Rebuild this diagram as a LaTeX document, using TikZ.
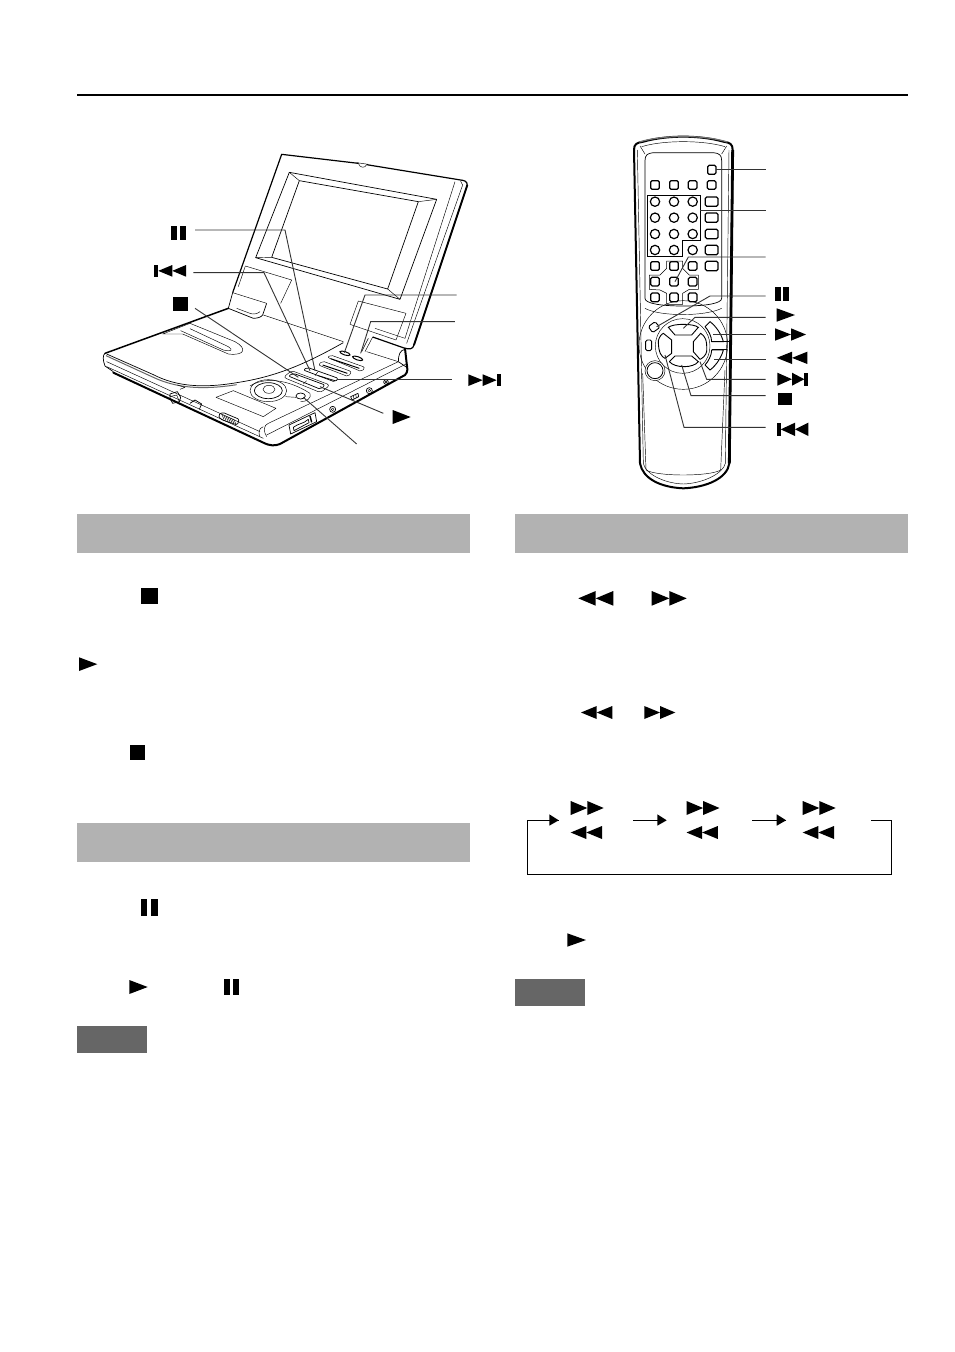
\documentclass[tikz,border=0pt]{standalone}
\tikzset{
  thinl/.style={line width=.45pt,black,line join=round},
  medl/.style={line width=.7pt,black,line join=round},
  heavy/.style={line width=2pt,black,line join=round,line cap=round},
  leader/.style={line width=.9pt,black!80,line join=miter},
  rbtn/.style={line width=1.2pt,black,rounded corners=1.5pt,fill=white},
  pagebar/.style={fill=black!30},
  notebar/.style={fill=black!60},
  flow/.style={line width=.9pt,black},
}
\newcommand\SymPlay[4]{\fill (#1,#3)--(#2,{(#3+#4)/2})--(#1,#4)--cycle;}
\newcommand\SymRev[4]{\fill (#2,#3)--(#1,{(#3+#4)/2})--(#2,#4)--cycle;}
\newcommand\SymFF[5]{\SymPlay{#1}{#2}{#4}{#5}\SymPlay{#2}{#3}{#4}{#5}}
\newcommand\SymRW[5]{\SymRev{#1}{#2}{#4}{#5}\SymRev{#2}{#3}{#4}{#5}}
\newcommand\SymStop[4]{\fill (#1,#3) rectangle (#2,#4);}
\newcommand\SymPause[6]{\fill (#1,#5) rectangle (#2,#6);\fill (#3,#5) rectangle (#4,#6);}
\newcommand\SymNext[6]{\SymFF{#1}{#2}{#3}{#5}{#6}\fill (#3,#5) rectangle (#4,#6);}
\newcommand\SymPrev[6]{\fill (#1,#5) rectangle (#2,#6);\SymRW{#2}{#3}{#4}{#5}{#6}}
\begin{document}
\begin{tikzpicture}[x=1pt,y=-1pt]
\useasboundingbox (0,0) rectangle (954,1352);
\fill[white] (0,0) rectangle (954,1352);
% page furniture
\draw[line width=2pt] (77,95) -- (908,95);
\fill[pagebar] (77,514) rectangle (470,553);
\fill[pagebar] (515,514) rectangle (908,553);
\fill[pagebar] (77,823) rectangle (470,862);
\fill[notebar] (77,1026) rectangle (147,1053);
\fill[notebar] (515,979) rectangle (585,1006);
% symbols in the page text
\SymStop{141}{157.7}{587.7}{604}
\SymPlay{79}{97.3}{657.3}{671}
\SymStop{130}{145}{745}{760}
\SymPause{141}{147.3}{151}{157.7}{899}{915.7}
\SymPlay{129.3}{147.7}{980}{994}
\SymPause{224}{230}{233.3}{239}{979.3}{994.7}
\SymRW{578.3}{595.7}{613.3}{591}{605.7}
\SymFF{651.7}{669.3}{686.7}{591}{605.7}
\SymRW{581}{596.7}{612.3}{706}{719}
\SymFF{644.3}{660}{675.3}{706}{719}
\SymPlay{567.3}{586}{933.3}{946.7}
\foreach \dx in {0,115.8,232}{
  \SymFF{570.7+\dx}{587.3+\dx}{603.7+\dx}{801}{815}
  \SymRW{570.7+\dx}{586.3+\dx}{602+\dx}{826}{839}
}
% speed cycle
\coordinate (a1) at (633,820.3);
\coordinate (a1e) at (666,820.3);
\coordinate (a2) at (752,820.3);
\coordinate (a2e) at (786,820.3);
\coordinate (a3) at (871,820.3);
\coordinate (a0e) at (559,820.3);
\draw[flow] (a3) -- (891.7,820.3) -- (891.7,874.3) -- (527.3,874.3) -- (527.3,820.3) -- (a0e);
\draw[flow] (a1) -- (a1e);
\draw[flow] (a2) -- (a2e);
\foreach \t in {549.3,657.3,776.7}{\fill (\t,814.3) -- (\t+9.4,820.3) -- (\t,825.7) -- cycle;}

% ---------- portable player ----------
\begin{scope}[shift={(90,140)},x=.33333pt,y=-.33333pt]
% lid
\draw[line width=1.2pt,line join=round] (428,458) -- (575,43) -- (805,70) (830,74) -- (1118,121) .. controls (1130,123) and (1134,130) .. (1130,142) -- (972,615) .. controls (968,628) and (960,628) .. (945,625) -- (848,591);
\draw[line width=1.8pt] (1132,135) -- (972,615);
\draw[thinl] (805,70) .. controls (810,85) and (825,85) .. (830,74);
\draw[thinl] (800,68) -- (835,73);
\draw[thinl] (1112,124) -- (1118,135) -- (950,610);
\draw[thinl] (1095,125) -- (945,595) -- (855,565);
\draw[thinl] (428,458) -- (530,490);
% screen bezel
\draw[medl] (598,97) -- (1040,178) -- (930,478) -- (497,353) -- cycle;
\draw[medl] (628,122) -- (985,185) -- (893,447) -- (545,352) -- cycle;
\draw[thinl] (598,97)--(628,122) (1040,178)--(985,185) (930,478)--(893,447) (497,353)--(545,352);
% lid label rectangles
\draw[thinl] (466,378) -- (605,420) -- (572,490);
\draw[thinl] (466,378) -- (445,440);
\draw[thinl] (805,483) -- (948,520) -- (918,600) -- (780,553) -- cycle;
% hinge
\draw[medl] (428,458) -- (415,505) -- (490,535) .. controls (505,535) and (515,530) .. (518,525) -- (530,490);
\draw[thinl] (440,505) -- (480,520) .. controls (490,525) and (505,520) .. (510,515);
\draw[thinl] (848,591) -- (825,635);
\draw[thinl] (835,595) -- (815,635);
% base outlines
\draw[line width=1.5pt,line cap=round] (415,505) -- (45,640);
\draw[medl] (45,640) .. controls (38,645) and (38,660) .. (45,678) -- (70,695);
\draw[heavy] (70,698) -- (520,908) .. controls (540,918) and (555,918) .. (570,912) -- (945,705) .. controls (955,695) and (952,685) .. (950,670) -- (945,625);
\draw[medl] (925,665) .. controls (925,645) and (930,630) .. (945,628);
\draw[medl] (925,665) -- (950,682);
\draw[thinl] (50,665) -- (510,875);
\draw[thinl] (50,680) -- (520,895);
\draw[thinl] (530,885) -- (948,672);
\draw[thinl] (520,860) .. controls (505,865) and (505,880) .. (510,890);
\draw[thinl] (535,850) .. controls (520,855) and (520,875) .. (530,890);
\draw[thinl] (535,850) -- (925,665);
% lid of disc well
\draw[line width=1pt,black!60] (48,647) -- (190,712) .. controls (260,745) and (340,750) .. (440,734);
\draw[medl] (50,642) -- (190,704) .. controls (260,740) and (340,745) .. (440,728) .. controls (560,710) and (650,670) .. (760,608);
\draw[thinl] (218,582) -- (300,550) -- (435,605) .. controls (472,625) and (465,648) .. (415,642) -- (278,582) -- cycle;
\draw[thinl] (300,566) -- (415,620) .. controls (430,630) and (425,636) .. (400,630) -- (272,572);
% top surface
\draw[thinl] (520,525) -- (760,605);
\draw[thinl] (830,635) -- (925,665);
\draw[medl,line width=1pt,rotate around={-18:(765,640)}] (765,640) ellipse (16 and 5);
\draw[medl,line width=1pt,rotate around={-18:(803,655)}] (803,655) ellipse (16 and 5);
\draw[thinl,rounded corners=2pt] (712,652) -- (722,645) -- (825,682) -- (815,695) -- cycle;
\draw[medl,line width=1pt] (722,656) -- (808,685);
\draw[thinl,rounded corners=2pt] (685,675) -- (697,663) -- (785,695) -- (775,710) -- cycle;
\draw[medl,line width=1pt] (698,675) -- (772,700);
\draw[medl,rounded corners=2pt] (640,690) -- (652,682) -- (745,715) -- (735,726) -- cycle;
\draw[thinl] (683,696) -- (675,707);
\draw[medl] (685,707) -- (735,722);
\draw[medl,rounded corners=2pt] (595,708) -- (610,700) -- (705,735) -- (692,748) -- cycle;
\draw[thinl] (650,722) -- (640,732);
\draw[thinl,rounded corners=3pt] (580,712) -- (605,692) -- (720,735) -- (692,758) -- cycle;
% joystick
\draw[thinl] (535,752) ellipse (55 and 33);
\draw[medl] (535,752) ellipse (42 and 24);
\draw[thinl] (537,748) ellipse (18 and 12);
\draw[medl,fill=white] (632,768) ellipse (14 and 9);
\draw[thinl] (587,770) -- (618,772);
\draw[thinl] (480,738) .. controls (520,712) and (590,715) .. (660,760) .. controls (665,775) and (650,785) .. (632,785);
% panel and switches on the top
\draw[thinl] (378,772) -- (430,752) -- (558,805) -- (520,830) -- cycle;
\draw[medl] (240,762) -- (262,755) -- (272,772) -- (268,785) -- (248,790) -- (240,775) -- cycle;
\draw[thinl] (240,770) -- (260,765) -- (268,785) (262,735) -- (285,742) -- (270,748);
\draw[medl] (300,790) -- (315,780) -- (335,792) -- (328,808);
\draw[medl,rounded corners=1.5pt] (385,825) -- (398,817) -- (448,838) -- (442,855) -- (392,838) -- cycle;
\foreach \k in {0,...,6}{\draw[thinl] (395+\k*6,822+\k*2.5) -- (402+\k*6,838+\k*2.5);}
% right side
\draw[medl] (728,808) circle (9);
\draw[thinl] (728,808) circle (4);
\draw[medl] (838,752) circle (9);
\draw[thinl] (838,752) circle (4);
\draw[medl] (888,726) circle (7);
\draw[thinl] (888,726) circle (3);
\draw[medl] (782,770) -- (804,760) -- (806,770) -- (786,780) -- cycle;
\draw[thinl] (790,768)--(792,776) (797,764)--(799,772);
\draw[medl] (597,855) -- (675,818) -- (680,845) -- (602,882) -- cycle;
\draw[medl] (610,862) .. controls (625,850) and (640,852) .. (655,838) -- (657,848) -- (612,872) -- cycle;
\draw[line width=1.4pt] (660,828) -- (665,847);
% leaders
\draw[leader] (315,270) -- (585,270) -- (675,692);
\draw[leader] (310,398) -- (522,398) -- (660,692);
\draw[leader] (315,505) -- (625,712);
\draw[leader] (880,820) -- (690,740);
\draw[leader] (800,912) -- (640,772);
\draw[leader] (1100,465) -- (825,465) -- (763,638);
\draw[leader] (1095,545) -- (842,545) -- (812,640);
\draw[leader] (1085,718) -- (740,718);
\end{scope}
\SymPause{171}{177.3}{180}{186}{226}{240}
\SymPrev{154.3}{158.3}{172.3}{186}{265}{276.7}
\SymStop{173.3}{187.7}{297.3}{311}
\SymNext{468.3}{482.7}{496.7}{500.7}{374.3}{386}
\SymPlay{392.7}{410.7}{410}{424}

% ---------- remote control ----------
\begin{scope}[shift={(620,130)},x=.33333pt,y=-.33333pt]
% body
\draw[line width=2pt,line join=round] (42,60) .. controls (42,42) and (50,38) .. (70,35) .. controls (140,15) and (240,15) .. (310,35) .. controls (330,38) and (338,42) .. (338,60) -- (328,1000) .. controls (322,1045) and (260,1072) .. (190,1075) .. controls (120,1072) and (68,1045) .. (60,1000) -- cycle;
\draw[line width=2.8pt] (338,60) -- (328,1000);
\draw[line width=1.2pt,black!55] (58,36) .. controls (130,14) and (250,14) .. (322,36);
\draw[thinl] (65,50) .. controls (130,30) and (250,30) .. (315,50);
\draw[thinl] (52,60) -- (70,1000) .. controls (75,1030) and (130,1060) .. (190,1062) .. controls (250,1060) and (310,1030) .. (316,1000) -- (327,60);
\draw[thinl] (60,48) -- (75,72) (320,48) -- (305,72);
\draw[medl] (75,92) .. controls (75,75) and (82,70) .. (100,68) -- (280,68) .. controls (298,70) and (305,75) .. (305,92) -- (305,505) .. controls (305,520) and (260,528) .. (190,528) .. controls (120,528) and (75,520) .. (75,505) -- cycle;
\draw[thinl] (75,535) .. controls (120,560) and (255,560) .. (305,535);
\draw[thinl] (68,730) -- (78,1020) .. controls (110,1040) and (270,1040) .. (302,1020) -- (315,720);
% keypad buttons
\draw[rbtn] (263,106) rectangle (288,133);
\foreach \bx in {105,162,218,275}{\draw[rbtn] ({\bx-13},152) rectangle ({\bx+13},178);}
\foreach \by in {215,263,312,360}{
  \foreach \bx in {105,162,218}{\draw[line width=1.2pt,fill=white] (\bx,\by) circle (14);}
  \draw[rbtn] (256,{\by-14}) rectangle (294,{\by+14});
}
\draw[rbtn] (256,394) rectangle (294,422);
\foreach \by in {408,455,502}{
  \foreach \bx in {105,162,218}{\draw[rbtn] ({\bx-13},{\by-13}) rectangle ({\bx+13},{\by+13});}
}
% brackets
\draw[line width=.7pt] (82,195) -- (240,195) -- (240,330) -- (187,330) -- (187,378) -- (82,378) -- cycle;
\draw[line width=.5pt] (120,435) -- (88,435) -- (88,478) -- (120,480) -- (140,490) -- (140,523) -- (188,523) -- (188,490) -- (208,478) -- (235,478) -- (235,435) -- (208,435) -- (188,415) -- (188,393) -- (140,393) -- (140,415) -- cycle;
% navigation cluster
\draw[thinl] (190,645) circle (133);
\draw[thinl] (188,648) circle (82);
\draw[line width=.9pt,fill=white] (145,592) .. controls (160,580) and (220,580) .. (235,592) -- (215,615) -- (165,615) -- cycle;
\draw[line width=.9pt,fill=white] (115,632) .. controls (118,620) and (125,612) .. (130,610) -- (155,630) -- (155,670) -- (135,685) .. controls (125,680) and (115,670) .. (115,632);
\draw[line width=.9pt,fill=white] (220,635) -- (242,610) .. controls (255,618) and (262,630) .. (260,665) .. controls (258,675) and (248,685) .. (240,688) -- (220,665) -- cycle;
\draw[line width=.9pt,fill=white] (148,695) -- (165,678) -- (215,678) -- (235,695) .. controls (220,715) and (165,715) .. (148,695);
\draw[line width=.9pt,fill=white] (255,590) -- (270,575) .. controls (290,590) and (305,615) .. (310,635) -- (275,635) .. controls (275,620) and (265,600) .. (255,590);
\draw[line width=.9pt,fill=white] (255,705) -- (270,720) .. controls (290,705) and (305,680) .. (310,660) -- (275,660) .. controls (275,675) and (265,695) .. (255,705);
\draw[medl] (275,635) -- (326,635) (275,658) -- (322,658);
\draw[line width=.9pt,fill=white,rounded corners=1.5pt] (85,590) -- (105,575) -- (120,592) -- (98,608) -- cycle;
\draw[line width=.9pt,fill=white,rounded corners=1.5pt] (77,630) rectangle (95,662);
\draw[thinl,fill=white] (105,722) circle (30);
\draw[line width=.8pt] (105,722) circle (24);
% leaders
\draw[leader] (288,118) -- (437,118);
\draw[leader] (240,241) -- (437,241);
\draw[leader] (437,381) -- (205,381) -- (165,455);
\draw[leader] (437,498) -- (270,498) -- (110,590);
\draw[leader] (437,562) -- (225,562) -- (190,595);
\draw[leader] (437,613) -- (280,613);
\draw[leader] (437,688) -- (283,688);
\draw[leader] (437,748) -- (260,748) -- (240,695);
\draw[leader] (437,797) -- (213,797) -- (185,705);
\draw[leader] (437,892) -- (192,892) -- (135,675);
\end{scope}
\SymPause{774.7}{781}{783.3}{789}{287.3}{301}
\SymPlay{776.7}{795}{308.3}{321.7}
\SymFF{775}{791}{806}{328.3}{340.7}
\SymRW{776.7}{792}{807.3}{351.7}{364}
\SymNext{777.3}{792}{804.3}{808.3}{372.7}{385.7}
\SymStop{777.7}{791.7}{393.3}{405}
\SymPrev{776.7}{780.7}{795}{808.3}{422.7}{436}
\end{tikzpicture}
\end{document}
